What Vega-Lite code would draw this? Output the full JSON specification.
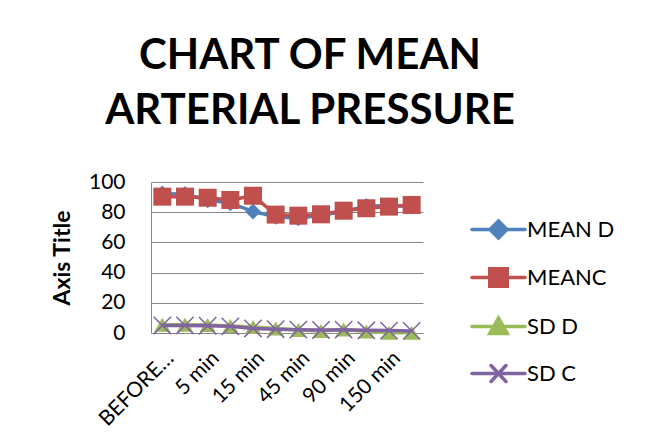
{
  "$schema": "https://vega.github.io/schema/vega-lite/v6.json",
  "autosize": "none",
  "width": 272,
  "height": 151,
  "padding": {"left": 151, "top": 182, "right": 222, "bottom": 114},
  "background": "white",
  "config": {
    "font": "Lato",
    "view": {"stroke": null},
    "axis": {"labelFont": "Lato", "titleFont": "Lato", "labelColor": "#000", "titleColor": "#000"}
  },
  "title": {
    "text": ["CHART OF MEAN", "ARTERIAL PRESSURE"],
    "font": "Lato",
    "fontSize": 42,
    "fontWeight": "bold",
    "color": "#000",
    "lineHeight": 55,
    "anchor": "middle",
    "dx": 23,
    "offset": 38
  },
  "data": {
    "values": [
      {"t": "BEFORE INDUCTION", "i": 0, "series": "MEAN D", "v": 92.3},
      {"t": "1 min", "i": 1, "series": "MEAN D", "v": 92},
      {"t": "5 min", "i": 2, "series": "MEAN D", "v": 88},
      {"t": "10 min", "i": 3, "series": "MEAN D", "v": 86},
      {"t": "15 min", "i": 4, "series": "MEAN D", "v": 80.5},
      {"t": "30 min", "i": 5, "series": "MEAN D", "v": 77},
      {"t": "45 min", "i": 6, "series": "MEAN D", "v": 76},
      {"t": "60 min", "i": 7, "series": "MEAN D", "v": 78},
      {"t": "90 min", "i": 8, "series": "MEAN D", "v": 80.5},
      {"t": "120 min", "i": 9, "series": "MEAN D", "v": 84},
      {"t": "150 min", "i": 10, "series": "MEAN D", "v": 84.5},
      {"t": "180 min", "i": 11, "series": "MEAN D", "v": 83.8},
      {"t": "BEFORE INDUCTION", "i": 0, "series": "MEANC", "v": 90.3},
      {"t": "1 min", "i": 1, "series": "MEANC", "v": 90.3},
      {"t": "5 min", "i": 2, "series": "MEANC", "v": 89.6},
      {"t": "10 min", "i": 3, "series": "MEANC", "v": 88.1},
      {"t": "15 min", "i": 4, "series": "MEANC", "v": 90.9},
      {"t": "30 min", "i": 5, "series": "MEANC", "v": 78.4},
      {"t": "45 min", "i": 6, "series": "MEANC", "v": 77.7},
      {"t": "60 min", "i": 7, "series": "MEANC", "v": 78.6},
      {"t": "90 min", "i": 8, "series": "MEANC", "v": 81},
      {"t": "120 min", "i": 9, "series": "MEANC", "v": 82.6},
      {"t": "150 min", "i": 10, "series": "MEANC", "v": 83.7},
      {"t": "180 min", "i": 11, "series": "MEANC", "v": 84.8},
      {"t": "BEFORE INDUCTION", "i": 0, "series": "SD D", "v": 5.5},
      {"t": "1 min", "i": 1, "series": "SD D", "v": 5.5},
      {"t": "5 min", "i": 2, "series": "SD D", "v": 5.3},
      {"t": "10 min", "i": 3, "series": "SD D", "v": 4.6},
      {"t": "15 min", "i": 4, "series": "SD D", "v": 4},
      {"t": "30 min", "i": 5, "series": "SD D", "v": 3},
      {"t": "45 min", "i": 6, "series": "SD D", "v": 2},
      {"t": "60 min", "i": 7, "series": "SD D", "v": 1.3},
      {"t": "90 min", "i": 8, "series": "SD D", "v": 2.3},
      {"t": "120 min", "i": 9, "series": "SD D", "v": 1},
      {"t": "150 min", "i": 10, "series": "SD D", "v": 0.2},
      {"t": "180 min", "i": 11, "series": "SD D", "v": 0.2},
      {"t": "BEFORE INDUCTION", "i": 0, "series": "SD C", "v": 5},
      {"t": "1 min", "i": 1, "series": "SD C", "v": 5},
      {"t": "5 min", "i": 2, "series": "SD C", "v": 4.8},
      {"t": "10 min", "i": 3, "series": "SD C", "v": 4.4},
      {"t": "15 min", "i": 4, "series": "SD C", "v": 3},
      {"t": "30 min", "i": 5, "series": "SD C", "v": 2.5},
      {"t": "45 min", "i": 6, "series": "SD C", "v": 2.2},
      {"t": "60 min", "i": 7, "series": "SD C", "v": 2},
      {"t": "90 min", "i": 8, "series": "SD C", "v": 2.2},
      {"t": "120 min", "i": 9, "series": "SD C", "v": 1.8},
      {"t": "150 min", "i": 10, "series": "SD C", "v": 1.6},
      {"t": "180 min", "i": 11, "series": "SD C", "v": 1.4}
    ]
  },
  "encoding": {
    "x": {
      "field": "t",
      "type": "nominal",
      "sort": {"field": "i"},
      "scale": {"type": "point", "padding": 0.5},
      "axis": {
        "title": null,
        "values": ["BEFORE INDUCTION", "5 min", "15 min", "45 min", "90 min", "150 min"],
        "labelAngle": -45,
        "labelAlign": "right",
        "labelBaseline": "top",
        "labelFontSize": 21,
        "labelLimit": 96,
        "labelPadding": 14,
        "labelOverlap": false,
        "ticks": false,
        "domainColor": "#868686",
        "domainWidth": 1,
        "grid": false
      }
    },
    "y": {
      "field": "v",
      "type": "quantitative",
      "scale": {"domain": [0, 100], "nice": false},
      "axis": {
        "title": "Axis Title",
        "titleFontSize": 23,
        "titleFontWeight": "bold",
        "titlePadding": 14,
        "values": [0, 20, 40, 60, 80, 100],
        "labelFontSize": 21,
        "labelPadding": 26,
        "labelBaseline": "middle",
        "ticks": false,
        "domainColor": "#868686",
        "gridColor": "#868686",
        "gridWidth": 1
      }
    },
    "color": {
      "field": "series",
      "type": "nominal",
      "scale": {
        "domain": ["MEAN D", "MEANC", "SD D", "SD C"],
        "range": ["#4F81BD", "#C0504D", "#9BBB59", "#8064A2"]
      },
      "legend": {
        "title": null,
        "orient": "none",
        "legendX": 319,
        "legendY": 19,
        "labelFontSize": 22,
        "labelFont": "Lato",
        "labelColor": "#000",
        "symbolSize": 2809,
        "symbolStrokeWidth": 3.5,
        "labelOffset": 0,
        "rowPadding": 4,
        "encode": {
          "symbols": {
            "update": {
              "shape": {"signal": "datum.value === 'MEAN D' ? 'M-1,0H1M0,-0.32L0.32,0L0,0.32L-0.32,0Z' : datum.value === 'MEANC' ? 'M-1,0H1M-0.33,-0.33H0.33V0.33H-0.33Z' : datum.value === 'SD D' ? 'M-1,0H1M0,-0.32L0.33,0.26H-0.33Z' : 'M-1,0H1M-0.28,-0.3L0.28,0.3M-0.28,0.3L0.28,-0.3'"},
              "fill": {"signal": "scale('color', datum.value)"},
              "stroke": {"signal": "scale('color', datum.value)"},
              "strokeCap": {"value": "round"},
              "opacity": {"value": 1}
            }
          }
        }
      }
    }
  },
  "layer": [
    {"transform": [{"filter": "datum.series === 'MEAN D'"}], "mark": {"type": "line", "strokeWidth": 3.5}},
    {"transform": [{"filter": "datum.series === 'MEAN D'"}], "mark": {"type": "point", "shape": "diamond", "filled": true, "size": 260, "opacity": 1}},
    {"transform": [{"filter": "datum.series === 'MEANC'"}], "mark": {"type": "line", "strokeWidth": 3.5}},
    {"transform": [{"filter": "datum.series === 'MEANC'"}], "mark": {"type": "point", "shape": "square", "filled": true, "size": 324, "opacity": 1}},
    {"transform": [{"filter": "datum.series === 'SD D'"}], "mark": {"type": "line", "strokeWidth": 3.5}},
    {"transform": [{"filter": "datum.series === 'SD D'"}], "mark": {"type": "point", "shape": "triangle-up", "filled": true, "size": 260, "opacity": 1}},
    {"transform": [{"filter": "datum.series === 'SD C'"}], "mark": {"type": "line", "strokeWidth": 3.5}},
    {"transform": [{"filter": "datum.series === 'SD C'"}], "mark": {"type": "point", "shape": "M-1,-1L1,1M-1,1L1,-1", "filled": false, "strokeWidth": 1.5, "size": 300, "opacity": 1}}
  ]
}
